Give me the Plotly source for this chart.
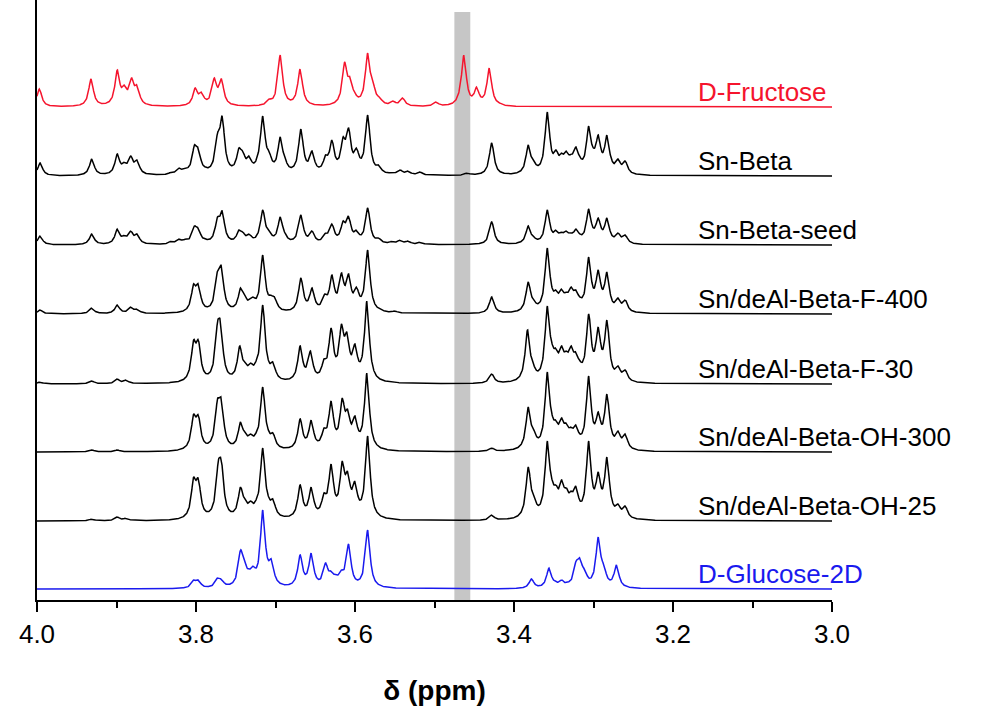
import numpy as np
import plotly.graph_objects as go

# Stacked 1H NMR spectra, 4.0–3.0 ppm. Each spectrum is given as a peak list
# (chemical shift in ppm, peak height) plus a vertical stacking offset.
names = ["D-Fructose", "Sn-Beta", "Sn-Beta-seed", "Sn/deAl-Beta-F-400",
         "Sn/deAl-Beta-F-30", "Sn/deAl-Beta-OH-300", "Sn/deAl-Beta-OH-25",
         "D-Glucose-2D"]
colors = ["#f5142d", "#000000", "#000000", "#000000",
          "#000000", "#000000", "#000000", "#1a1aee"]
offsets = [493, 424, 355, 286, 216, 148, 79, 11]

fructose_ppm = [3.997, 3.932, 3.899, 3.890, 3.881, 3.874, 3.801, 3.793, 3.777, 3.768,
                3.708, 3.694, 3.675, 3.669, 3.613, 3.606, 3.600, 3.584, 3.577, 3.569,
                3.552, 3.540, 3.498, 3.468, 3.463, 3.447, 3.431, 3.418]
fructose_int = [18, 28, 37, 22, 29, 22, 19, 15, 29, 28,
                8, 52, 6, 38, 45, 30, 14, 54, 24, 10,
                6, 9, 5, 20, 52, 20, 39, 4]

snbeta_ppm = [3.996, 3.931, 3.899, 3.890, 3.882, 3.874, 3.831, 3.821, 3.813, 3.802,
              3.797, 3.788, 3.773, 3.767, 3.746, 3.741, 3.733, 3.722, 3.716, 3.708,
              3.694, 3.688, 3.668, 3.654, 3.637, 3.629, 3.615, 3.608, 3.598, 3.584,
              3.570, 3.553, 3.543, 3.533, 3.518, 3.459, 3.428,
              3.382, 3.375, 3.358, 3.353, 3.347, 3.340, 3.334, 3.328, 3.322, 3.317,
              3.306, 3.300, 3.294, 3.288, 3.283, 3.277, 3.269, 3.260]
snbeta_int = [13, 17, 22, 14, 20, 16, 4, 8, 8, 31,
              28, 9, 43, 60, 28, 25, 20, 22, 60, 25,
              39, 18, 47, 25, 21, 36, 39, 48, 28, 61,
              11, 4, 6, 5, 4, 3, 33,
              31, 15, 64, 23, 26, 23, 25, 22, 29, 19,
              50, 28, 41, 19, 41, 16, 17, 15]

seed_ppm = [3.996, 3.931, 3.899, 3.890, 3.882, 3.874, 3.831, 3.821, 3.813, 3.802,
            3.797, 3.788, 3.773, 3.767, 3.746, 3.741, 3.733, 3.722, 3.716, 3.708,
            3.694, 3.688, 3.668, 3.654, 3.637, 3.629, 3.615, 3.608, 3.598, 3.584,
            3.570, 3.553, 3.543, 3.533, 3.518, 3.428,
            3.382, 3.375, 3.358, 3.353, 3.347, 3.340, 3.334, 3.328, 3.322, 3.317,
            3.306, 3.300, 3.294, 3.288, 3.283, 3.277, 3.269, 3.260]
seed_int = [9, 11, 16, 10, 14, 11, 4, 6, 6, 19,
            17, 6, 28, 34, 15, 13, 11, 12, 35, 15,
            28, 12, 30, 14, 12, 21, 24, 29, 15, 37,
            7, 4, 5, 4, 3, 23,
            19, 8, 35, 14, 15, 13, 14, 12, 16, 11,
            36, 17, 27, 12, 27, 10, 12, 10]

f400_ppm = [3.996, 3.931, 3.899, 3.882, 3.874, 3.803, 3.797, 3.773, 3.768, 3.744,
            3.739, 3.732, 3.728, 3.716, 3.711, 3.706, 3.701, 3.668, 3.654, 3.638,
            3.629, 3.617, 3.608, 3.598, 3.584, 3.568, 3.550, 3.428,
            3.382, 3.375, 3.358, 3.352, 3.347, 3.340, 3.334, 3.328, 3.322, 3.317,
            3.306, 3.300, 3.294, 3.288, 3.283, 3.277, 3.269, 3.260]
f400_int = [4, 6, 9, 7, 5, 30, 30, 43, 48, 26,
            20, 15, 17, 59, 22, 19, 17, 36, 26, 20,
            39, 41, 40, 27, 64, 5, 3, 17,
            32, 14, 66, 26, 24, 25, 22, 27, 24, 17,
            57, 22, 44, 17, 42, 14, 16, 14]

f30_ppm = [3.996, 3.931, 3.899, 3.888, 3.803, 3.797, 3.773, 3.769, 3.745, 3.738,
           3.731, 3.724, 3.716, 3.709, 3.703, 3.669, 3.656, 3.639, 3.630, 3.617,
           3.610, 3.600, 3.585, 3.428,
           3.383, 3.376, 3.358, 3.352, 3.347, 3.340, 3.334, 3.328, 3.322, 3.317,
           3.306, 3.300, 3.294, 3.288, 3.283, 3.277, 3.269, 3.260]
f30_int = [2, 3, 5, 4, 44, 44, 62, 63, 38, 22,
           21, 24, 79, 24, 22, 38, 33, 25, 56, 60,
           52, 40, 83, 10,
           54, 21, 78, 40, 36, 38, 33, 38, 32, 23,
           70, 26, 57, 22, 64, 18, 18, 14]

oh300_ppm = [3.931, 3.899, 3.803, 3.797, 3.773, 3.768, 3.744, 3.738, 3.731, 3.724,
             3.716, 3.709, 3.703, 3.669, 3.655, 3.639, 3.630, 3.616, 3.609, 3.600,
             3.585, 3.428,
             3.382, 3.375, 3.358, 3.352, 3.347, 3.340, 3.334, 3.328, 3.322, 3.317,
             3.306, 3.300, 3.294, 3.288, 3.283, 3.277, 3.269, 3.260]
oh300_int = [2, 2, 38, 37, 53, 54, 30, 20, 18, 20,
             65, 22, 19, 33, 32, 24, 51, 54, 43, 36,
             79, 4,
             45, 22, 80, 37, 32, 34, 29, 25, 27, 18,
             76, 25, 40, 22, 58, 21, 21, 18]

oh25_ppm = [3.931, 3.899, 3.888, 3.803, 3.797, 3.772, 3.768, 3.744, 3.738, 3.731,
            3.724, 3.716, 3.709, 3.703, 3.669, 3.655, 3.639, 3.630, 3.616, 3.609,
            3.600, 3.584, 3.428,
            3.382, 3.375, 3.358, 3.352, 3.347, 3.340, 3.334, 3.328, 3.322, 3.317,
            3.306, 3.300, 3.294, 3.288, 3.283, 3.277, 3.269, 3.260]
oh25_int = [2, 4, 3, 44, 43, 60, 61, 34, 22, 20,
            22, 73, 25, 22, 36, 34, 28, 57, 60, 50,
            40, 85, 6,
            54, 26, 80, 41, 36, 41, 33, 30, 35, 20,
            80, 28, 49, 24, 64, 22, 17, 15]

glucose_ppm = [3.803, 3.797, 3.773, 3.768, 3.744, 3.739, 3.733, 3.728, 3.722, 3.716,
               3.710, 3.705, 3.669, 3.655, 3.637, 3.630, 3.624, 3.617, 3.608, 3.600,
               3.584,
               3.378, 3.356, 3.348, 3.340, 3.332, 3.322, 3.317, 3.311, 3.294, 3.287,
               3.271]
glucose_int = [9, 9, 11, 10, 39, 29, 20, 23, 20, 79,
               31, 30, 34, 36, 26, 18, 15, 19, 45, 10,
               59,
               10, 21, 8, 9, 7, 28, 31, 20, 52, 25,
               24]

peak_lists = [(fructose_ppm, fructose_int), (snbeta_ppm, snbeta_int),
              (seed_ppm, seed_int), (f400_ppm, f400_int), (f30_ppm, f30_int),
              (oh300_ppm, oh300_int), (oh25_ppm, oh25_int),
              (glucose_ppm, glucose_int)]

HWHM = 0.0036  # Lorentzian half width (ppm)
x = np.arange(3.0, 4.0 + 1e-9, 0.0004)


def lorentz(d):
    return 1.0 / (1.0 + (d / HWHM) ** 2)


def spectrum(ppm, heights):
    ppm = np.asarray(ppm, float)
    h = np.asarray(heights, float)
    # amplitudes chosen so that the summed curve reaches each listed height
    A = lorentz(ppm[:, None] - ppm[None, :])
    amp = h.copy()
    for _ in range(300):
        amp = np.clip(amp + 0.4 * (h - A @ amp), 0, None)
    return (lorentz(x[:, None] - ppm[None, :]) @ amp)


fig = go.Figure()

for name, color, off, (ppm, hts) in zip(names, colors, offsets, peak_lists):
    fig.add_trace(go.Scatter(x=x, y=off + spectrum(ppm, hts), mode="lines",
                             line=dict(color=color, width=1.5), name=name,
                             hoverinfo="skip"))
    fig.add_annotation(x=3.171, y=off + 15, text=name, showarrow=False,
                       xanchor="left", yanchor="middle",
                       font=dict(family="Liberation Sans", size=26, color=color))

# highlighted region
fig.add_shape(type="rect", x0=3.455, x1=3.475, y0=0, y1=588, xref="x", yref="y",
              fillcolor="#c6c6c6", line=dict(width=0), layer="below")

fig.update_layout(
    width=982, height=712,
    margin=dict(l=37, r=150, t=0, b=112),
    paper_bgcolor="white", plot_bgcolor="white",
    showlegend=False,
    font=dict(family="Liberation Sans", color="black"),
    xaxis=dict(range=[4.0, 3.0], tickvals=[4.0, 3.8, 3.6, 3.4, 3.2, 3.0],
               ticktext=["4.0", "3.8", "3.6", "3.4", "3.2", "3.0"],
               ticks="outside", ticklen=10, tickwidth=1.6, tickcolor="black",
               minor=dict(tickvals=[3.9, 3.7, 3.5, 3.3, 3.1], ticks="outside",
                          ticklen=6, tickwidth=1.6, tickcolor="black"),
               showline=True, linecolor="black", linewidth=1.8,
               showgrid=False, zeroline=False,
               tickfont=dict(size=26, family="Liberation Sans"),
               title=dict(text="<b>δ (ppm)</b>", font=dict(size=28, family="Liberation Sans"),
                          standoff=32)),
    yaxis=dict(range=[0, 600], showticklabels=False, ticks="", showgrid=False,
               zeroline=False, showline=True, linecolor="black", linewidth=1.8),
)

fig.write_html("out.html")
